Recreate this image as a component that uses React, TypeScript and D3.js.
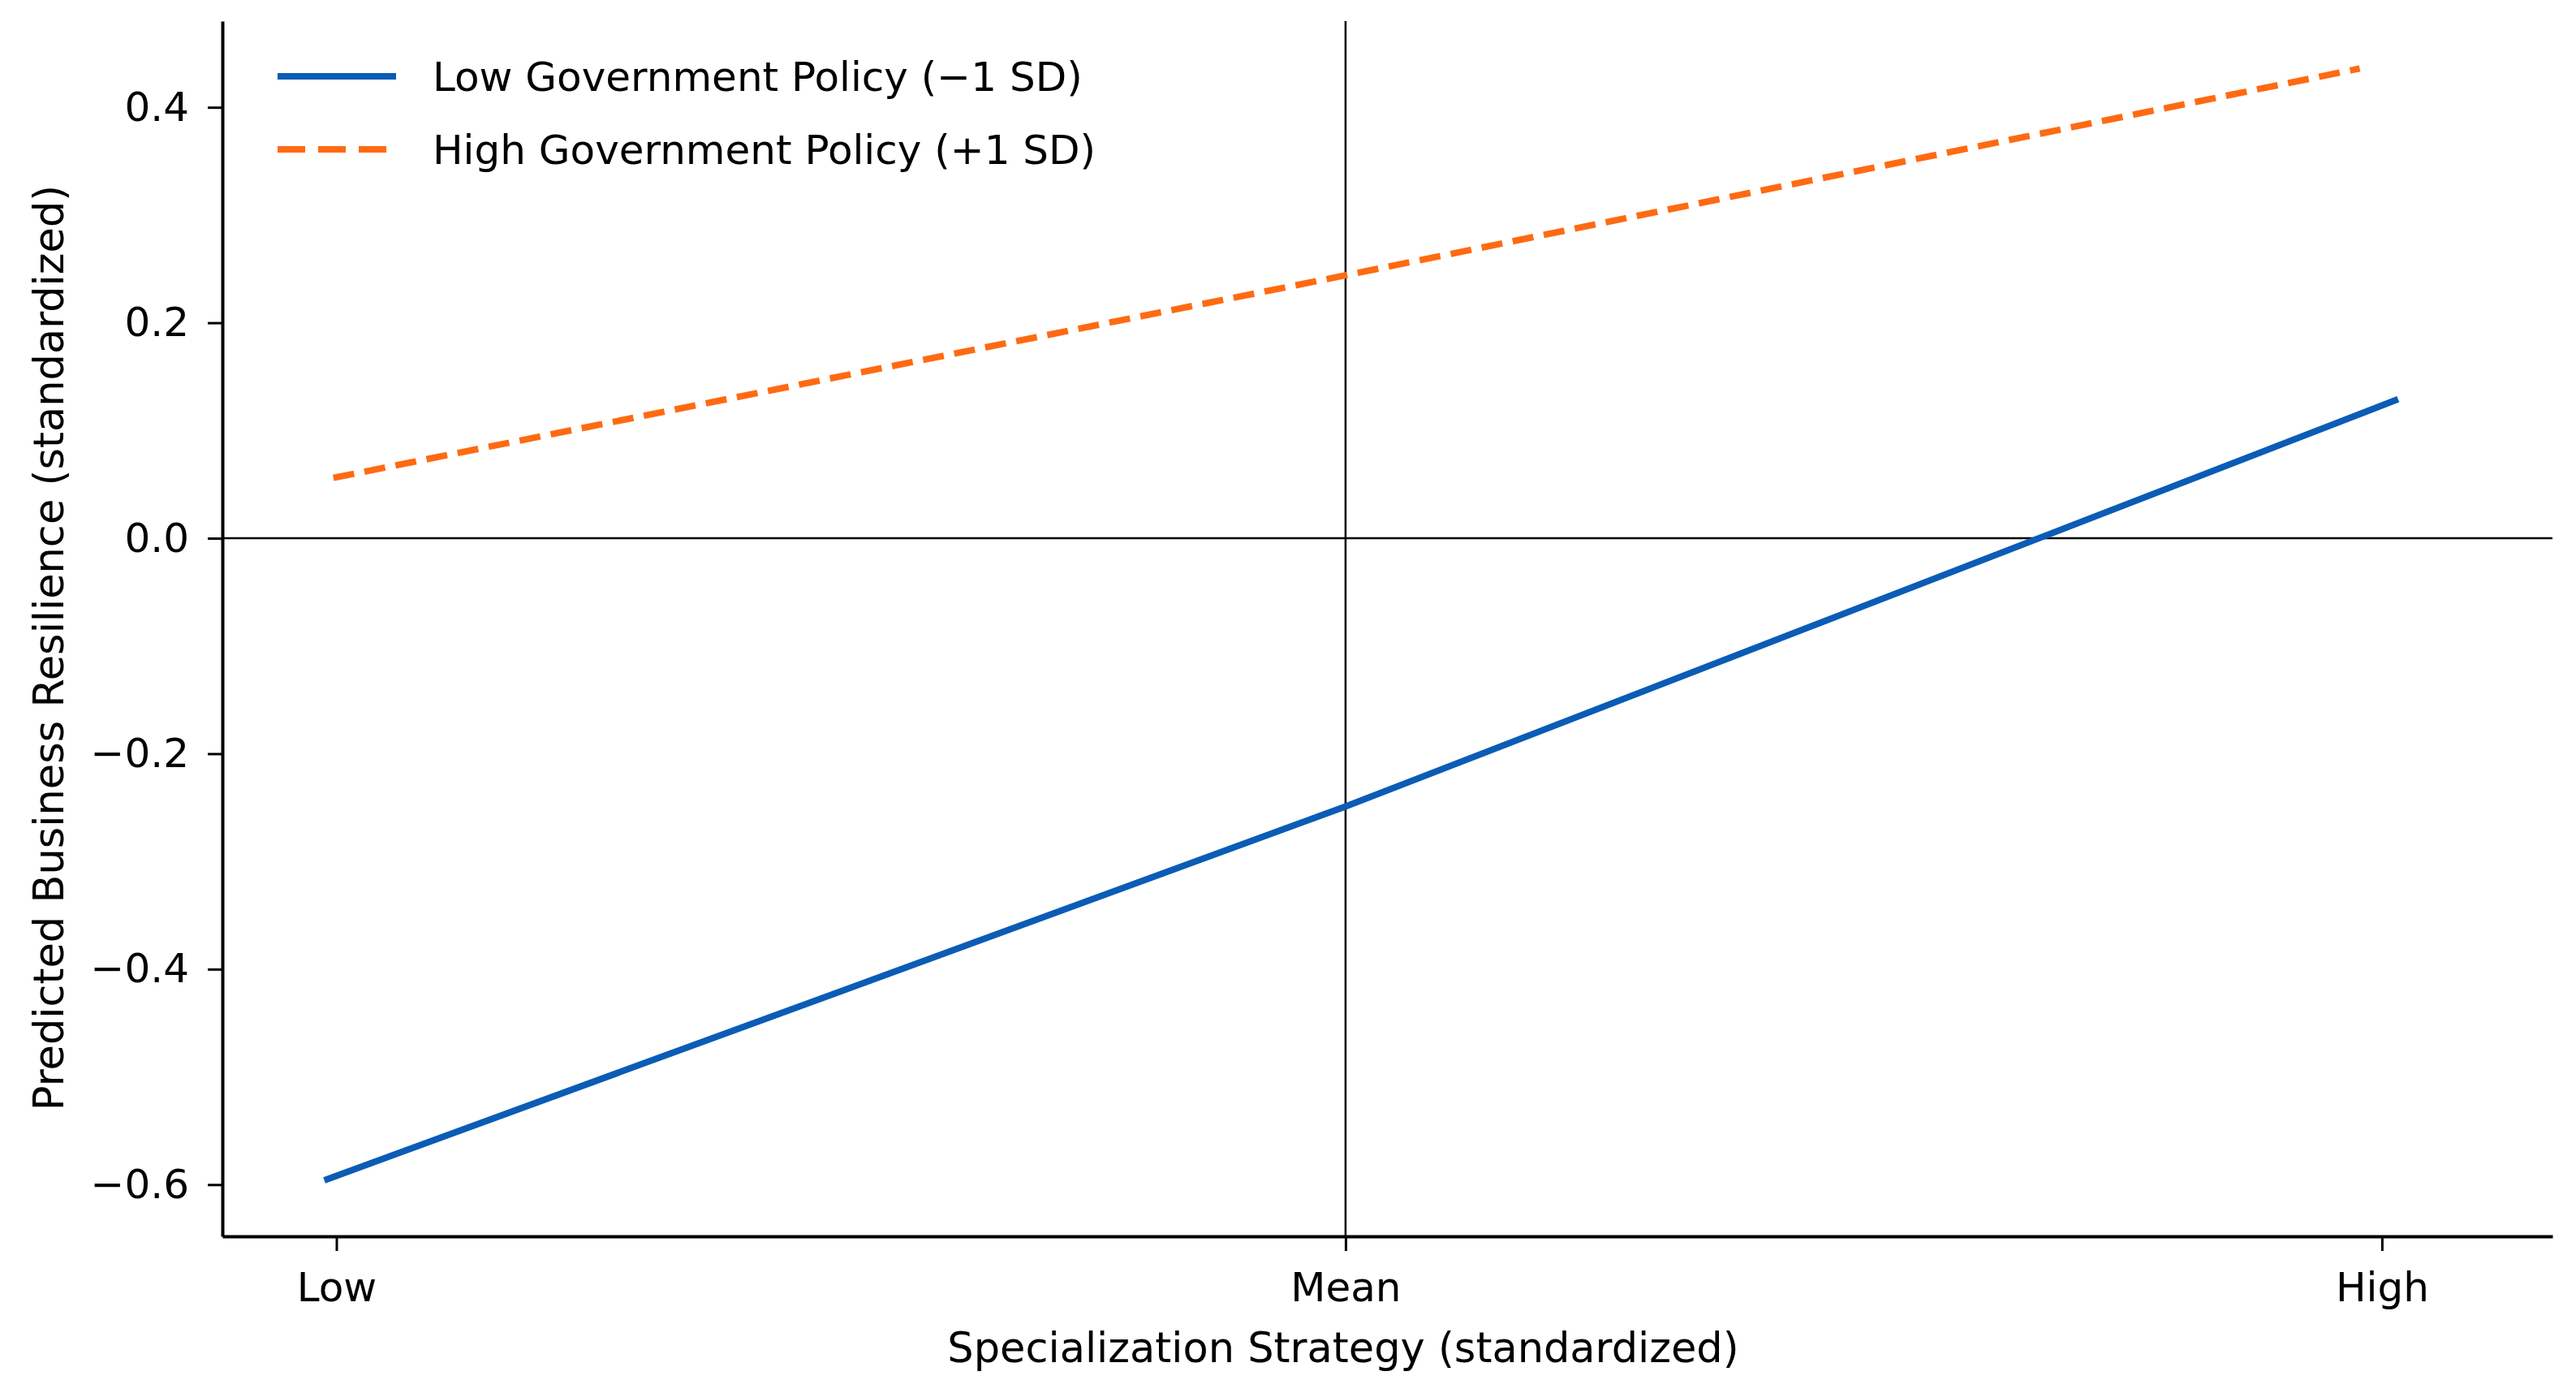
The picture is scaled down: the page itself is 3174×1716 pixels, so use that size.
import React, { useRef, useEffect } from "react";
import * as d3 from "d3";

// Values
const xTickValues = [-1, 0, 1.027];
const xTickLabels = ["Low", "Mean", "High"];
const yTickValues = [-0.6, -0.4, -0.2, 0.0, 0.2, 0.4];

const lowPolicyX = [-1.012, 0, 1.043];
const lowPolicyY = [-0.596, -0.249, 0.129];
const highPolicyX = [-1.003, 0, 1.005];
const highPolicyY = [0.056, 0.244, 0.436];

const seriesNames = ["Low Government Policy (\u22121 SD)", "High Government Policy (+1 SD)"];
const seriesColors = ["#0b5cb5", "#ff6a12"];

const WIDTH = 3174;
const HEIGHT = 1716;
const FONT = "'DejaVu Sans', sans-serif";

const App: React.FC = () => {
  const svgRef = useRef<SVGSVGElement>(null);

  useEffect(() => {
    document.body.style.margin = "0";
    if (!svgRef.current) return;

    const svg = d3.select(svgRef.current);
    svg.selectAll("*").remove();

    const left = 274;
    const right = 3145;
    const top = 26;
    const bottom = 1523;

    const x = d3.scaleLinear().domain([-1.113, 1.196]).range([left, right]);
    const y = d3.scaleLinear().domain([-0.648, 0.48]).range([bottom, top]);

    // reference lines at x = mean and y = 0
    svg
      .append("line")
      .attr("x1", x(0))
      .attr("x2", x(0))
      .attr("y1", top)
      .attr("y2", bottom)
      .attr("stroke", "#000")
      .attr("stroke-width", 2.5);
    svg
      .append("line")
      .attr("x1", left)
      .attr("x2", right)
      .attr("y1", y(0))
      .attr("y2", y(0))
      .attr("stroke", "#000")
      .attr("stroke-width", 2.5);

    const series = [
      { xs: lowPolicyX, ys: lowPolicyY, dash: null as string | null },
      { xs: highPolicyX, ys: highPolicyY, dash: "26,13" },
    ];

    const line = d3
      .line<[number, number]>()
      .x((d) => x(d[0]))
      .y((d) => y(d[1]));

    series.forEach((s, i) => {
      const pts = s.xs.map((v, j) => [v, s.ys[j]] as [number, number]);
      svg
        .append("path")
        .attr("d", line(pts))
        .attr("fill", "none")
        .attr("stroke", seriesColors[i])
        .attr("stroke-width", 8)
        .attr("stroke-dasharray", s.dash);
    });

    // axes
    const xAxis = svg
      .append("g")
      .attr("transform", `translate(0,${bottom})`)
      .call(
        d3
          .axisBottom(x)
          .tickValues(xTickValues)
          .tickFormat((_, i) => xTickLabels[i])
          .tickSize(18)
          .tickSizeOuter(0)
          .tickPadding(26)
      );

    const yAxis = svg
      .append("g")
      .attr("transform", `translate(${left},0)`)
      .call(
        d3
          .axisLeft(y)
          .tickValues(yTickValues)
          .tickFormat(d3.format(".1f"))
          .tickSize(18)
          .tickSizeOuter(0)
          .tickPadding(23)
      );

    [xAxis, yAxis].forEach((g) => {
      g.select(".domain").attr("stroke", "#000").attr("stroke-width", 4);
      g.selectAll(".tick line").attr("stroke", "#000").attr("stroke-width", 3);
      g.selectAll(".tick text")
        .attr("fill", "#000")
        .style("font-family", FONT)
        .style("font-size", "50px");
    });

    // axis titles
    svg
      .append("text")
      .attr("x", 1655)
      .attr("y", 1678)
      .attr("text-anchor", "middle")
      .style("font-family", FONT)
      .style("font-size", "51px")
      .text("Specialization Strategy (standardized)");

    svg
      .append("text")
      .attr("transform", `translate(78,798) rotate(-90)`)
      .attr("text-anchor", "middle")
      .style("font-family", FONT)
      .style("font-size", "51px")
      .text("Predicted Business Resilience (standardized)");

    // legend
    const legendRows = [94, 184];
    const legendDash = [null, "34,16"];
    legendRows.forEach((ly, i) => {
      svg
        .append("line")
        .attr("x1", 342)
        .attr("x2", 488)
        .attr("y1", ly)
        .attr("y2", ly)
        .attr("stroke", seriesColors[i])
        .attr("stroke-width", 8)
        .attr("stroke-dasharray", legendDash[i]);
      svg
        .append("text")
        .attr("x", 533)
        .attr("y", ly)
        .attr("dy", "0.36em")
        .style("font-family", FONT)
        .style("font-size", "50px")
        .text(seriesNames[i]);
    });
  }, []);

  return (
    <svg
      ref={svgRef}
      width={WIDTH}
      height={HEIGHT}
      style={{ display: "block", background: "#fff" }}
    />
  );
};

export default App;
